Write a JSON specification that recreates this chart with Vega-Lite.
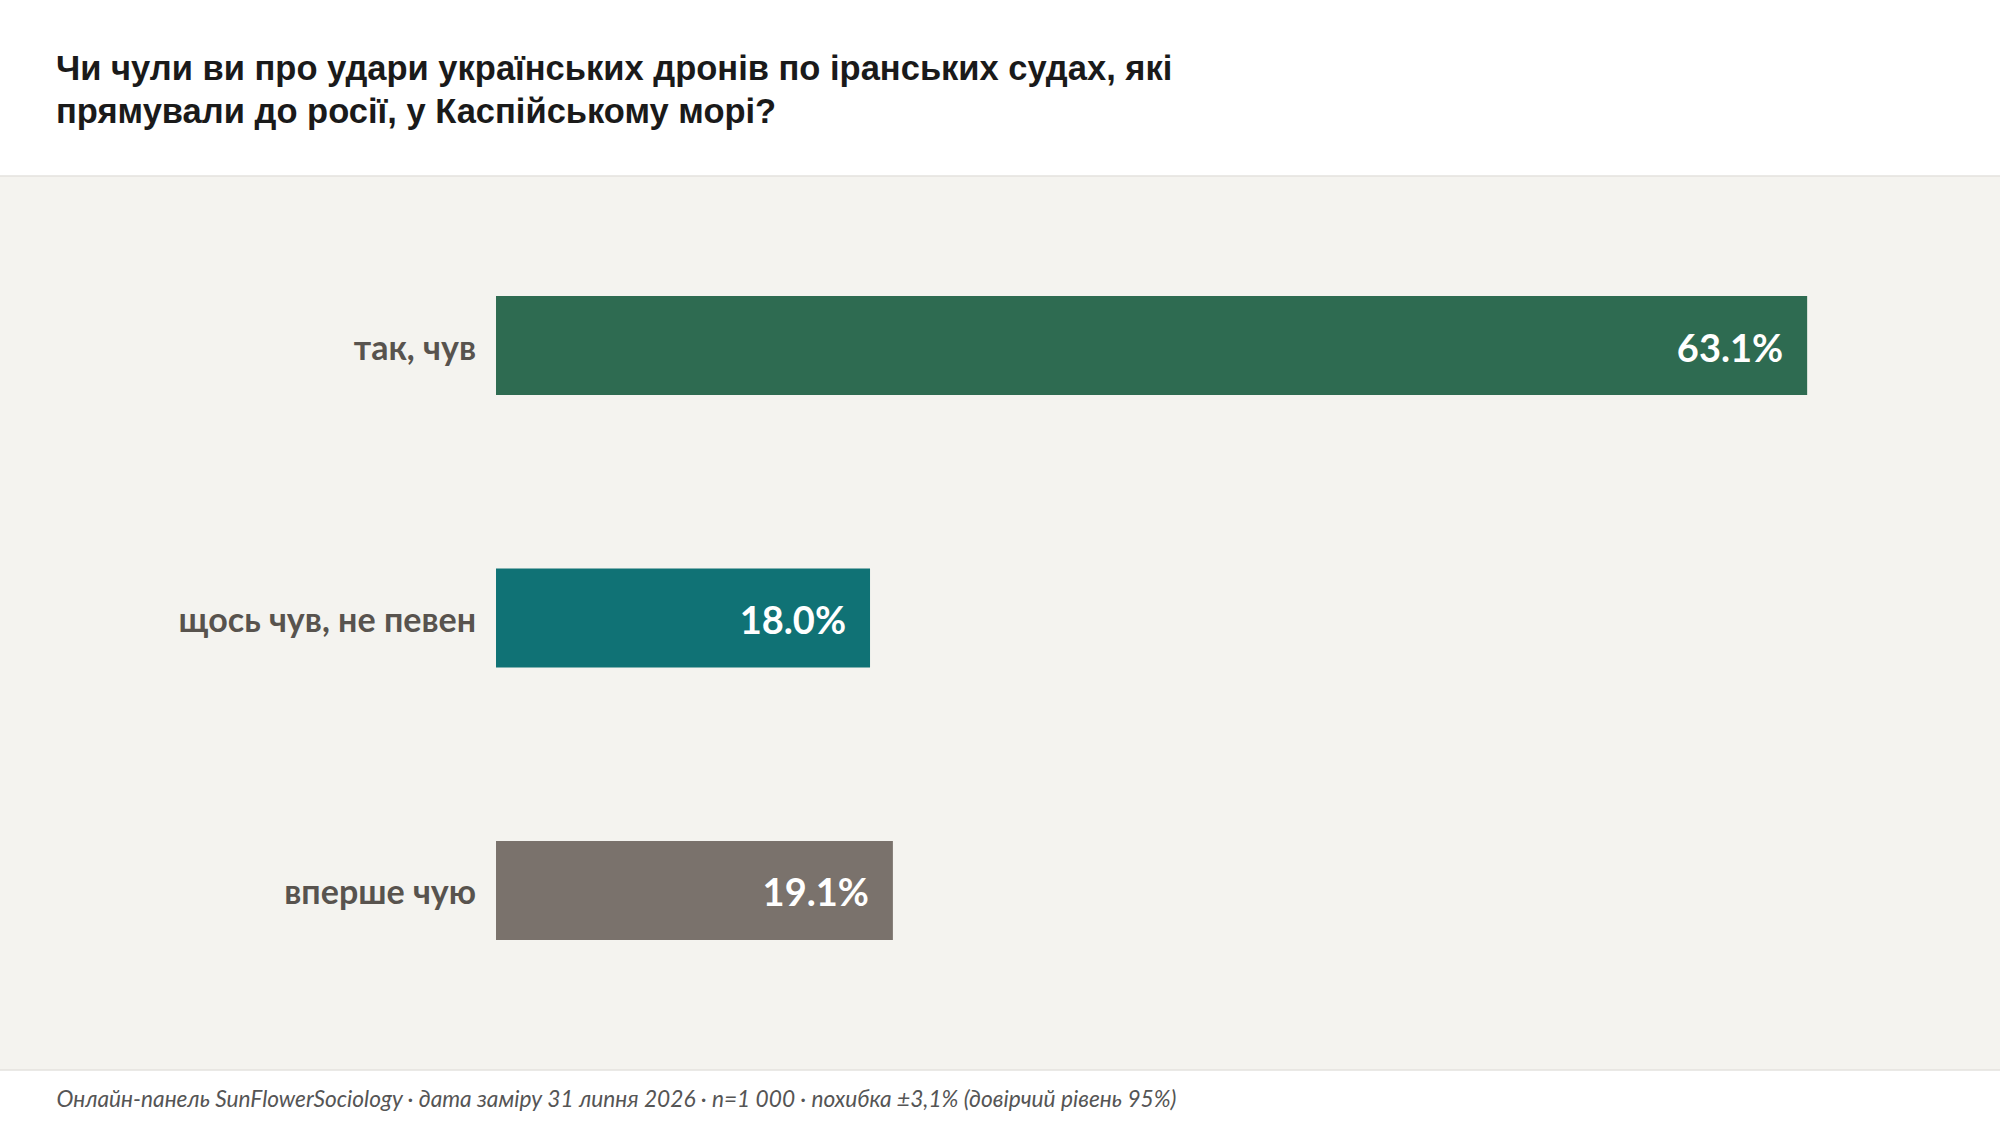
{
  "$schema": "https://vega.github.io/schema/vega-lite/v6.json",
  "width": 2004,
  "height": 894,
  "autosize": {"type": "none"},
  "padding": {"top": 176, "bottom": 56, "left": -2, "right": -2},
  "background": "#ffffff",
  "title": {
    "text": ["Чи чули ви про удари українських дронів по іранських судах, які", "прямували до росії, у Каспійському морі?"],
    "anchor": "start",
    "frame": "group",
    "dx": 58,
    "offset": 46,
    "font": "Liberation Sans",
    "fontSize": 34.5,
    "fontWeight": "bold",
    "color": "#1a1a1a",
    "lineHeight": 43
  },
  "data": {
    "values": [
      {"answer": "так, чув", "share": 0.631},
      {"answer": "щось чув, не певен", "share": 0.18},
      {"answer": "вперше чую", "share": 0.191}
    ]
  },
  "encoding": {
    "y": {
      "field": "answer",
      "type": "nominal",
      "sort": null,
      "scale": {"range": [0, 884], "paddingInner": 0.6367, "paddingOuter": 0.4404},
      "axis": null
    },
    "x": {
      "field": "share",
      "type": "quantitative",
      "scale": {"domain": [-0.23967, 0.72477], "nice": false, "zero": false},
      "axis": {
        "title": "Онлайн-панель SunFlowerSociology · дата заміру 31 липня 2026 · n=1 000 · похибка ±3,1% (довірчий рівень 95%)",
        "labels": false,
        "ticks": false,
        "grid": false,
        "domain": false,
        "titleX": 58,
        "titleY": 29,
        "titleAlign": "left",
        "titleAnchor": "start",
        "titleBaseline": "middle",
        "titleFont": "Lato",
        "titleFontStyle": "italic",
        "titleFontWeight": "normal",
        "titleFontSize": 22.7,
        "titleColor": "#555555"
      }
    }
  },
  "layer": [
    {
      "mark": {"type": "bar"},
      "encoding": {
        "x2": {"datum": 0},
        "color": {
          "field": "answer",
          "type": "nominal",
          "scale": {
            "domain": ["так, чув", "щось чув, не певен", "вперше чую"],
            "range": ["#2e6b51", "#107275", "#7a726c"]
          },
          "legend": null
        }
      }
    },
    {
      "mark": {"type": "text", "align": "right", "baseline": "middle", "dx": -20, "dy": 4, "font": "Lato", "fontWeight": "bold", "fontSize": 34, "color": "#58534e"},
      "encoding": {
        "x": {"datum": 0},
        "text": {"field": "answer"}
      }
    },
    {
      "mark": {"type": "text", "align": "right", "baseline": "middle", "dx": -24, "dy": 5, "font": "Lato", "fontWeight": "bold", "fontSize": 38, "color": "#ffffff"},
      "encoding": {
        "text": {"field": "share", "type": "quantitative", "format": ".1%"}
      }
    }
  ],
  "config": {
    "view": {"fill": "#f4f3ef", "stroke": "#e3e2de", "strokeWidth": 1.5}
  }
}
